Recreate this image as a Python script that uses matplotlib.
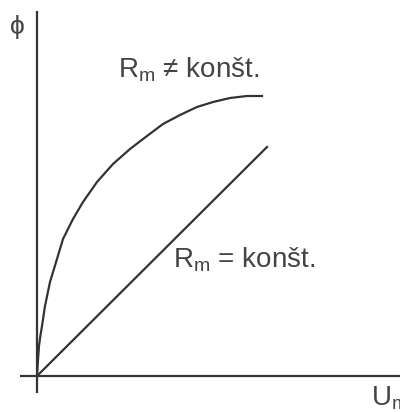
import matplotlib.pyplot as plt

plt.rcParams['font.family'] = ['Liberation Sans', 'DejaVu Sans']
plt.rcParams['mathtext.default'] = 'regular'

# curve for non-constant reluctance (U_m, phi)
curve_u = [0, 1, 2, 3.5, 5, 8, 13, 20, 26, 36, 46, 60, 76, 93, 110, 126, 143, 160, 176, 193, 210, 225]
curve_phi = [0, 16, 30, 41, 50, 70, 94, 117, 137, 157, 174, 194, 212, 227, 240, 252, 261, 269, 274, 278, 280, 280]

# straight line for constant reluctance
line_u = [0, 230]
line_phi = [0, 229]

ink = '#333333'
txt = '#444444'

fig = plt.figure(figsize=(4.0, 4.12), dpi=100)
ax = fig.add_axes([0, 0, 1, 1])
ax.set_xlim(-37, 363)
ax.set_ylim(-36, 376)
ax.axis('off')

# axes drawn as plain lines, crossing a bit past the origin
ax.plot([-17, 363], [0, 0], color=ink, lw=1.6, solid_capstyle='butt')
ax.plot([0, 0], [-17, 365], color=ink, lw=1.6, solid_capstyle='butt')

ax.plot(curve_u, curve_phi, color=ink, lw=1.6)
ax.plot(line_u, line_phi, color=ink, lw=1.6)

ax.text(-20, 349, '\u03d5', fontsize=19, color=txt, ha='center', va='center')
ax.text(334, -29, 'U$_m$', fontsize=20, color=txt, ha='left', va='baseline')
ax.text(81, 299, 'R$_m$ \u2260 kon\u0161t.', fontsize=20, color=txt, ha='left', va='baseline')
ax.text(136, 108, 'R$_m$ = kon\u0161t.', fontsize=20, color=txt, ha='left', va='baseline')

fig.savefig('out.png', dpi=100)
